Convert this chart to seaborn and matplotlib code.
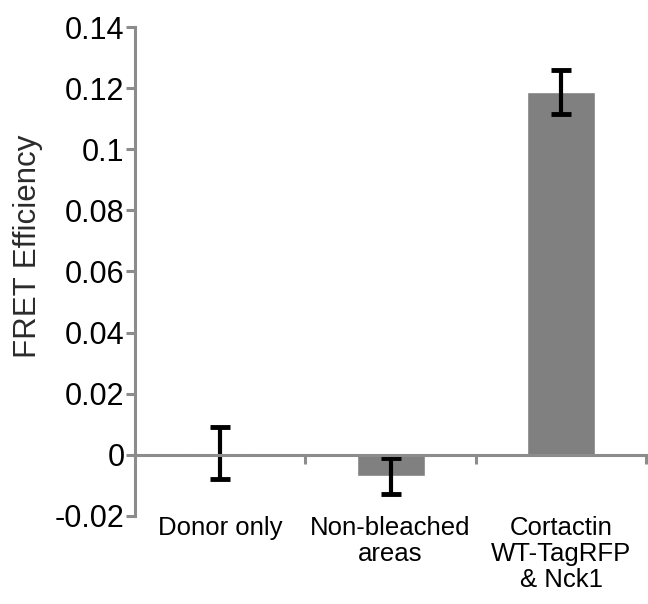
import numpy as np
import pandas as pd
import matplotlib
matplotlib.use("Agg")
import matplotlib.pyplot as plt
import seaborn as sns

# values
categories = ["Donor only", "Non-bleached\nareas", "Cortactin\nWT-TagRFP\n& Nck1"]
fret_mean = [0.0006, -0.0070, 0.1188]
fret_err = [0.0086, 0.0060, 0.0072]
y_ticks = [-0.02, 0, 0.02, 0.04, 0.06, 0.08, 0.1, 0.12, 0.14]
y_tick_labels = ["-0.02", "0", "0.02", "0.04", "0.06", "0.08", "0.1", "0.12", "0.14"]

df = pd.DataFrame({"group": categories, "fret": fret_mean})

sns.set_style("white")
plt.rcParams["font.family"] = ["Liberation Sans", "DejaVu Sans"]

fig = plt.figure(figsize=(6.48, 6.04), dpi=100)
ax = fig.add_axes([0.2083, 0.146, 0.789, 0.809])

axis_grey = "#8c8c8c"
sns.barplot(data=df, x="group", y="fret", color="#808080", saturation=1,
            width=0.4, ax=ax, zorder=2)
ax.errorbar(range(len(categories)), fret_mean, yerr=fret_err, fmt="none",
            ecolor="black", elinewidth=3, capsize=7.5, capthick=3.5, zorder=3)

ax.set_xlim(-0.5, 2.5)
ax.set_ylim(-0.02, 0.14)
ax.set_yticks(y_ticks)
ax.set_yticklabels(y_tick_labels, fontsize=22, color="black")

# x axis sits at zero, with little ticks between the groups
ax.spines["bottom"].set_position(("data", 0))
for side in ["top", "right"]:
    ax.spines[side].set_visible(False)
for side in ["left", "bottom"]:
    ax.spines[side].set_color(axis_grey)
    ax.spines[side].set_linewidth(2.2)
    ax.spines[side].set_zorder(4)

ax.set_xticks([0, 1, 2])
ax.set_xticklabels(categories, fontsize=18.5, linespacing=1.1, color="black")
ax.set_xticks([0.5, 1.5, 2.5], minor=True)
ax.tick_params(axis="x", which="major", length=0, pad=44)
ax.tick_params(axis="x", which="minor", direction="out", length=6.5,
               width=2.2, color=axis_grey, bottom=True)
ax.tick_params(axis="y", direction="out", length=6.5, width=2.2,
               color=axis_grey, left=True, pad=1)

ax.set_xlabel("")
ax.set_ylabel("FRET Efficiency", fontsize=22.5, color="#2b2b2b")
ax.yaxis.set_label_coords(-0.18, 0.552)

fig.savefig("out.png", dpi=100)
